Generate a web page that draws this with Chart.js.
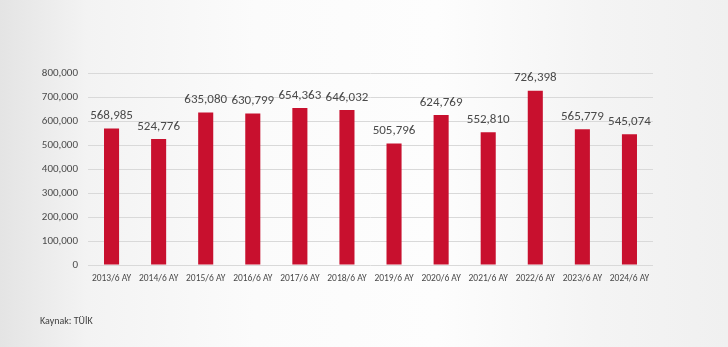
<!DOCTYPE html>
<html>
<head>
<meta charset="utf-8">
<script src="https://cdn.jsdelivr.net/npm/chart.js@4"></script>
<style>
    html, body { margin: 0; padding: 0; }
    body {
        width: 728px; height: 347px; overflow: hidden; position: relative;
        background: linear-gradient(to right, #e4e4e4 0%, #f3f3f3 12%, #fbfbfb 35%, #fdfdfd 60%, #f4f4f4 82%, #f0f0f0 100%);
    }
    #wrap { position: absolute; left: 0; top: 0; width: 728px; height: 347px; }
    #source {
        position: absolute; left: 40px; top: 314px;
        font-family: Carlito, Lato, sans-serif; font-size: 10px; color: #404040;
    }
</style>
</head>
<body>
<div id="wrap"><canvas id="salesChart"></canvas></div>
<div id="source">Kaynak: TÜİK</div>
<script>
const periods = ['2013/6 AY', '2014/6 AY', '2015/6 AY', '2016/6 AY', '2017/6 AY', '2018/6 AY',
                 '2019/6 AY', '2020/6 AY', '2021/6 AY', '2022/6 AY', '2023/6 AY', '2024/6 AY'];
const totals = [568985, 524776, 635080, 630799, 654363, 646032, 505796, 624769, 552810, 726398, 565779, 545074];
const yTicks = [0, 100000, 200000, 300000, 400000, 500000, 600000, 700000, 800000];

const fontFamily = 'Carlito, Lato, sans-serif';
const fmt = v => v.toLocaleString('en-US');

// value labels above each bar
const barLabels = {
    id: 'barLabels',
    afterDatasetsDraw(chart) {
        const ctx = chart.ctx;
        const meta = chart.getDatasetMeta(0);
        ctx.save();
        ctx.font = '13px ' + fontFamily;
        ctx.fillStyle = '#4a4a4a';
        ctx.textAlign = 'center';
        ctx.textBaseline = 'bottom';
        meta.data.forEach((bar, i) => {
            ctx.fillText(fmt(totals[i]), bar.x, bar.y - 6);
        });
        ctx.restore();
    }
};

const ctx = document.getElementById('salesChart').getContext('2d');
new Chart(ctx, {
    type: 'bar',
    data: {
        labels: periods,
        datasets: [{
            data: totals,
            backgroundColor: '#c8102e',
            barPercentage: 0.32,
            categoryPercentage: 1
        }]
    },
    options: {
        responsive: true,
        maintainAspectRatio: false,
        animation: false,
        layout: { padding: { left: 0, right: 75, top: 73, bottom: 0 } },
        plugins: {
            legend: { display: false },
            tooltip: { enabled: false }
        },
        scales: {
            x: {
                grid: { display: false, drawTicks: false },
                border: { display: false },
                ticks: {
                    color: '#4a4a4a',
                    font: { family: fontFamily, size: 9.5 },
                    maxRotation: 0,
                    autoSkip: false,
                    padding: 8
                },
                afterFit: scale => { scale.height = 82; }
            },
            y: {
                min: 0,
                max: 800000,
                border: { display: false },
                grid: { color: '#d9d9d9', drawTicks: false },
                afterBuildTicks: scale => { scale.ticks = yTicks.map(v => ({ value: v })); },
                ticks: {
                    color: '#4a4a4a',
                    font: { family: fontFamily, size: 11 },
                    padding: 10,
                    callback: v => fmt(v)
                },
                afterFit: scale => { scale.width = 88; }
            }
        }
    },
    plugins: [barLabels]
});
</script>
</body>
</html>
